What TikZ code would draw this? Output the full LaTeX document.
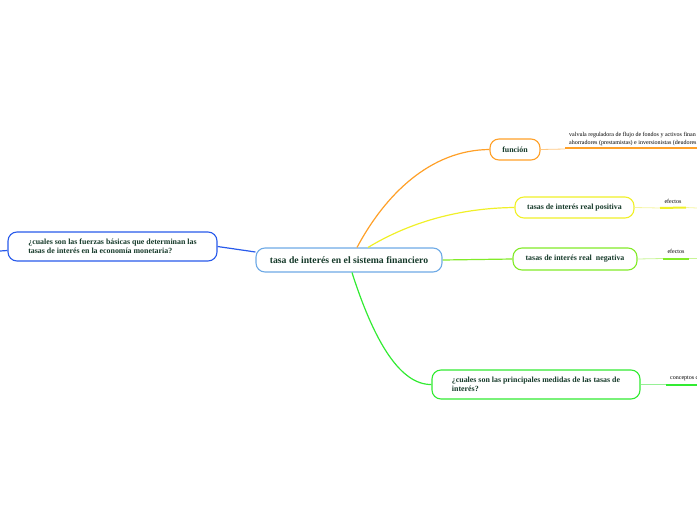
\documentclass[tikz,border=0pt]{standalone}
\usepackage{fontspec}
\setmainfont{Liberation Serif}
\definecolor{txt}{RGB}{22,58,42}
\definecolor{cblue}{RGB}{110,170,230}
\definecolor{lblue}{RGB}{40,90,235}
\definecolor{corange}{RGB}{255,160,40}
\definecolor{lorange}{RGB}{255,200,130}
\definecolor{cyellow}{RGB}{240,240,40}
\definecolor{lyellow}{RGB}{245,245,160}
\definecolor{clime}{RGB}{130,235,40}
\definecolor{llime}{RGB}{200,245,150}
\definecolor{cgreen}{RGB}{50,235,50}
\definecolor{lgreen}{RGB}{150,240,150}
\begin{document}
\begin{tikzpicture}[x=1pt,y=-1pt,
  topic/.style={draw, rounded corners=9pt, line width=1.1pt, fill=white,
    font=\bfseries\fontsize{7.9}{9}\selectfont, text=txt, inner sep=0pt, align=left},
  subtxt/.style={font=\fontsize{6}{8}\selectfont, text=black, inner sep=0pt, align=left},
  conn/.style={line width=1.2pt},
  thinline/.style={line width=0.8pt},
  thickline/.style={line width=2pt}]
\useasboundingbox (0,0) rectangle (697,520);

% nodes
\node[topic, draw=cblue, minimum width=186pt, minimum height=24pt,
  font=\bfseries\fontsize{9.7}{11}\selectfont] (c) at (349,260) {tasa de interés en el sistema financiero};
\node[topic, draw=lblue, minimum width=209pt, minimum height=29pt] (l) at (112.5,246.5)
  {¿cuales son las fuerzas básicas que determinan las\\tasas de interés en la economía monetaria?};
\node[topic, draw=corange, minimum width=50pt, minimum height=21pt] (f) at (515,149.5) {función};
\node[topic, draw=cyellow, minimum width=119pt, minimum height=21pt] (p) at (574.5,207.5) {tasas de interés real positiva};
\node[topic, draw=clime, minimum width=124pt, minimum height=22pt] (n) at (575,259) {tasas de interés real\ \ negativa};
\node[topic, draw=cgreen, minimum width=208pt, minimum height=29pt] (m) at (536,384.5)
  {¿cuales son las principales medidas de las tasas de\\interés?};

% main connectors
\draw[conn, corange] ([xshift=8pt]c.north) .. controls (385,195) and (430,150) .. (f.west);
\draw[conn, cyellow] ([xshift=19pt]c.north) .. controls (410,222) and (460,208) .. (p.west);
\draw[conn, clime] (c.east) -- (n.west);
\draw[conn, cgreen] ([xshift=3pt]c.south) .. controls (372,335) and (398,385) .. (m.west);
\draw[conn, lblue] ([yshift=8pt]c.west) -- (l.east);
\coordinate (le) at (0,251);
\draw[conn, lblue] (le) -- ([yshift=-4pt]l.west);

% función subtopic
\coordinate (f1) at (565,149);
\coordinate (f2) at (697,148);
\draw[thinline, lorange] (f.east) -- (f1);
\draw[thickline, corange] (f1 |- f2) -- (f2);
\node[subtxt, anchor=south west] (ft) at (569,146)
  {valvula reguladora de flujo de fondos y activos finan\\ahorradores (prestamistas) e inversionistas (deudores};

% positiva subtopic
\coordinate (p1) at (660,208);
\coordinate (p2) at (686,207.5);
\coordinate (p3) at (697,208);
\draw[thinline, lyellow] (p.east) -- (p1);
\draw[thickline, cyellow] (p1) -- (p2);
\draw[thinline, lyellow] (p2) -- (p3);
\node[subtxt] (pt) at (673,201) {efectos};

% negativa subtopic
\coordinate (n1) at (663,258.5);
\coordinate (n2) at (689,258.5);
\coordinate (n3) at (697,258.5);
\draw[thinline, llime] (n.east) -- (n1);
\draw[thickline, clime] (n1) -- (n2);
\draw[thinline, llime] (n2) -- (n3);
\node[subtxt] (nt) at (676,251) {efectos};

% medidas subtopic
\coordinate (m1) at (666,384.5);
\coordinate (m2) at (697,384.5);
\draw[thinline, lgreen] (m.east) -- (m1);
\draw[thickline, cgreen] (m1) -- (m2);
\node[subtxt, anchor=west] (mt) at (670,378.5) {conceptos c};
\end{tikzpicture}
\end{document}
